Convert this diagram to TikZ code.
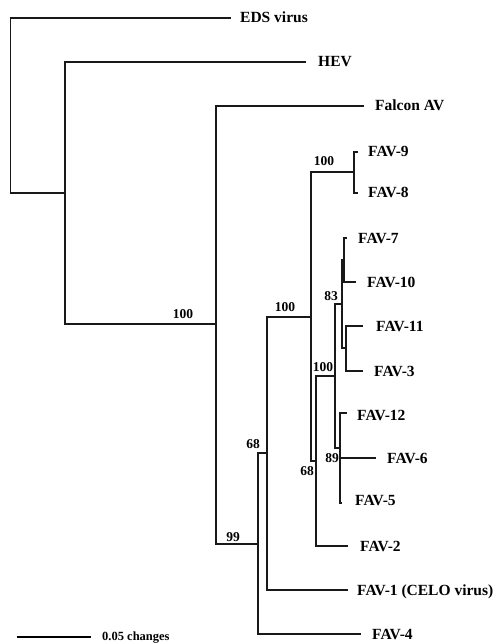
\documentclass[tikz,border=0pt]{standalone}
\usepackage{fontspec}
\setmainfont{Liberation Serif}
\begin{document}
\begin{tikzpicture}[x=1pt,y=-1pt,
  br/.style={line width=1.2pt, line cap=rect, black!90},
  lab/.style={anchor=base west, inner sep=0pt, font=\fontsize{15.5}{16}\selectfont\bfseries},
  bs/.style={inner sep=0pt, font=\fontsize{13.5}{14}\selectfont\bfseries}]
\useasboundingbox (0,0) rectangle (503,644);
% internal nodes
\coordinate (r)   at (10.7,18);
\coordinate (n1)  at (65,193);
\coordinate (n2)  at (216,324);
\coordinate (n3)  at (258,544);
\coordinate (n4)  at (267,453);
\coordinate (n5)  at (311,317);
\coordinate (n6)  at (354,172);
\coordinate (n7)  at (316,461);
\coordinate (n8)  at (335,376);
\coordinate (n9)  at (342,304);
\coordinate (n10) at (344,260);
\coordinate (n11) at (346,348);
\coordinate (n12) at (340,448);
% tips
\coordinate (tEDS) at (230,18);
\coordinate (tHEV) at (305,62);
\coordinate (tFal) at (363,106);
\coordinate (t9)  at (357,152);
\coordinate (t8)  at (357,193);
\coordinate (t7)  at (346,238);
\coordinate (t10) at (355,282);
\coordinate (t11) at (362,326);
\coordinate (t3)  at (362,371);
\coordinate (t12) at (346,413);
\coordinate (t6)  at (375,458);
\coordinate (t5)  at (341,503);
\coordinate (t2)  at (347,546);
\coordinate (t1)  at (347,590);
\coordinate (t4)  at (360,634);
% labels
\node[lab] (lEDS) at ([xshift=10pt,yshift=-5pt]tEDS) {EDS virus};
\node[lab] (lHEV) at ([xshift=13pt,yshift=-5pt]tHEV) {HEV};
\node[lab] (lFal) at ([xshift=12pt,yshift=-5pt]tFal) {Falcon AV};
\node[lab] (l9)  at ([xshift=11pt,yshift=-5pt]t9) {FAV-9};
\node[lab] (l8)  at ([xshift=11pt,yshift=-5pt]t8) {FAV-8};
\node[lab] (l7)  at ([xshift=12pt,yshift=-5pt]t7) {FAV-7};
\node[lab] (l10) at ([xshift=12pt,yshift=-5pt]t10) {FAV-10};
\node[lab] (l11) at ([xshift=14pt,yshift=-5pt]t11) {FAV-11};
\node[lab] (l3)  at ([xshift=12pt,yshift=-5pt]t3) {FAV-3};
\node[lab] (l12) at ([xshift=11pt,yshift=-7pt]t12) {FAV-12};
\node[lab] (l6)  at ([xshift=12pt,yshift=-5pt]t6) {FAV-6};
\node[lab] (l5)  at ([xshift=14pt,yshift=-2pt]t5) {FAV-5};
\node[lab] (l2)  at ([xshift=13pt,yshift=-5pt]t2) {FAV-2};
\node[lab] (l1)  at ([xshift=10pt,yshift=-5pt]t1) {FAV-1 (CELO virus)};
\node[lab] (l4)  at ([xshift=12pt,yshift=-5pt]t4) {FAV-4};
% branches
\draw[br] (tEDS) -- (r) |- (n1);
\draw[br] (tHEV) -| (n1) |- (n2);
\draw[br] (tFal) -| (n2) |- (n3);
\draw[br] (n4) -| (n3) |- (t4);
\draw[br] (n5) -| (n4) |- (t1);
\draw[br] (n6) -| (n5) |- (n7);
\draw[br] (t9) -| (n6) |- (t8);
\draw[br] (n8) -| (n7) |- (t2);
\draw[br] (n9) -| (n8) |- (n12);
\draw[br] (n10) -| (n9) |- (n11);
\draw[br] (t7) -| (n10) |- (t10);
\draw[br] (t11) -| (n11) |- (t3);
\draw[br] (t12) -| (n12) |- (t5);
\draw[br] (n12 |- t6) -- (t6);
% bootstrap values
\node[bs] (b1) at (183,314) {100};
\node[bs] (b2) at (324,161) {100};
\node[bs] (b3) at (285,307) {100};
\node[bs] (b4) at (331,296) {83};
\node[bs] (b5) at (323,367) {100};
\node[bs] (b6) at (332,458) {89};
\node[bs] (b7) at (307,471) {68};
\node[bs] (b8) at (253,444) {68};
\node[bs] (b9) at (233,537) {99};
% scale bar
\coordinate (s1) at (17,637);
\coordinate (s2) at (91,637);
\draw[line width=2.6pt] (s1) -- (s2);
\node[inner sep=0pt, anchor=base west, font=\fontsize{12.5}{13}\selectfont\bfseries] (sc) at ([xshift=11pt,yshift=-3pt]s2) {0.05 changes};
\end{tikzpicture}
\end{document}
